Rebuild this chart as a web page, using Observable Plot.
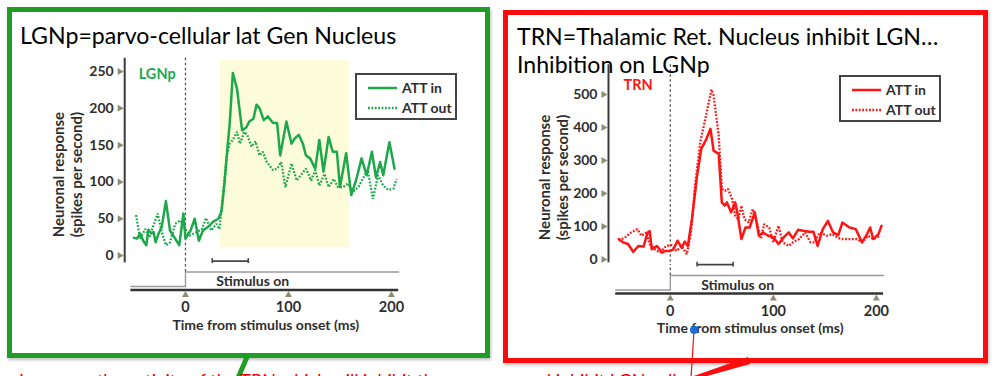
<!DOCTYPE html>
<html>
<head>
<meta charset="utf-8">
<script src="https://cdn.jsdelivr.net/npm/d3@7"></script>
<script src="https://cdn.jsdelivr.net/npm/@observablehq/plot@0.6"></script>
<style>
  html, body { margin: 0; padding: 0; background: #fff; }
  #stage { position: relative; width: 994px; height: 376px; overflow: hidden; background: #fff; }
  .box { position: absolute; box-sizing: border-box; box-shadow: 1px 2px 3px rgba(0,0,0,0.25); }
  .slot { position: absolute; }
  .slot svg { display: block; }
  #overlay { position: absolute; left: 0; top: 0; }
</style>
</head>
<body>
<div id="stage">
  <div class="box" style="left:7px;top:7px;width:483px;height:351px;border:5px solid #1f9d24;"></div>
  <div class="box" style="left:503px;top:10px;width:485px;height:353px;border:5px solid #fb0d0d;"></div>
  <div class="slot" id="lgnMain" style="left:14px;top:48px;"></div>
  <div class="slot" id="lgnStim" style="left:14px;top:250px;"></div>
  <div class="slot" id="trnMain" style="left:500px;top:48px;"></div>
  <div class="slot" id="trnStim" style="left:500px;top:254px;"></div>
  <svg id="overlay" width="994" height="376"></svg>
</div>
<script>
// ---------------- data ----------------
const lgnAttIn = [[-50,24],[-47,23],[-44,30],[-41,20],[-38,14],[-36,35],[-33,30],[-31,32],[-29,18],[-26,30],[-23,39],[-19,74],[-15,34],[-10,23],[-6,14],[-2,57],[0,23],[5,34],[9,50],[13,20],[17,34],[22,39],[27,46],[32,50],[35,60],[38,100],[41,150],[43,180],[46,248],[50,227],[55,170],[59,174],[62,182],[66,186],[69,205],[72,200],[76,184],[80,189],[85,180],[89,180],[92,136],[98,182],[103,152],[106,159],[110,164],[114,152],[117,136],[121,132],[126,118],[130,157],[134,114],[139,161],[143,141],[147,141],[150,93],[156,139],[161,82],[166,104],[171,132],[176,109],[181,141],[185,106],[189,127],[192,109],[198,154],[203,118]];
const lgnAttOut = [[-48,55],[-44,23],[-39,36],[-35,25],[-31,41],[-27,57],[-23,32],[-19,14],[-15,18],[-10,43],[-5,48],[0,36],[4,27],[11,32],[16,36],[20,51],[25,34],[30,43],[33,36],[37,90],[40,136],[43,152],[46,157],[50,168],[53,152],[57,168],[60,164],[64,148],[68,155],[72,136],[75,141],[79,127],[85,116],[89,118],[93,127],[97,93],[103,125],[108,102],[113,111],[117,118],[122,102],[126,116],[130,95],[135,111],[139,93],[144,104],[148,93],[153,93],[158,98],[162,86],[168,93],[172,104],[177,116],[182,77],[187,109],[192,95],[197,89],[202,91],[205,104]];
const trnAttIn = [[-50,62],[-46,52],[-41,47],[-36,23],[-31,41],[-26,39],[-22,82],[-20,86],[-18,31],[-13,41],[-8,21],[-5,26],[0,26],[3,31],[7,57],[11,36],[14,54],[17,41],[21,122],[26,254],[30,335],[35,365],[39,396],[42,330],[47,320],[50,173],[53,163],[55,173],[59,143],[63,173],[65,143],[69,62],[73,97],[77,97],[82,143],[86,72],[90,82],[95,72],[100,67],[105,47],[110,67],[115,82],[119,64],[124,90],[129,87],[135,84],[139,84],[143,41],[148,92],[153,117],[158,82],[163,74],[167,112],[174,97],[180,92],[186,52],[191,77],[194,97],[197,62],[202,77],[205,102]];
const trnAttOut = [[-50,57],[-44,67],[-38,82],[-32,92],[-28,72],[-23,82],[-20,47],[-15,31],[-10,21],[-4,41],[1,44],[6,26],[11,41],[16,16],[20,82],[24,224],[29,355],[34,426],[38,487],[40,515],[42,497],[47,375],[50,214],[53,208],[56,214],[60,183],[63,133],[66,122],[69,163],[72,122],[76,112],[80,153],[84,112],[88,62],[91,107],[96,97],[100,52],[105,102],[109,52],[115,41],[119,52],[125,62],[131,82],[136,52],[140,52],[145,82],[152,72],[157,77],[162,67],[166,62],[174,62],[181,62],[186,52],[192,72],[197,62],[204,72]];

const lgnYTicks = [0, 50, 100, 150, 200, 250];
const trnYTicks = [0, 100, 200, 300, 400, 500];
const xTicks = [0, 100, 200];
const seriesNames = ["ATT in", "ATT out"];
const lgnAttnWindow = [{start: 34, end: 159, low: 11, high: 265}];
const analysisBar = [{start: 26, end: 61}];
const stimulusTrace = [{t: -53, on: 0}, {t: 0, on: 0}, {t: 0, on: 1}, {t: 207, on: 1}];
const stimulusLabel = [{t: 30, on: 0.33, text: "Stimulus on"}];
const xLabel = "Time from stimulus onset (ms)";
const yLabel = "Neuronal response\n(spikes per second)";
const lgnTitle = "LGNp=parvo-cellular lat Gen Nucleus";
const trnTitle = ["TRN=Thalamic Ret. Nucleus inhibit LGN…", "Inhibition on LGNp"];

// ---------------- styles ----------------
const GREEN = "#1ea84c", RED = "#ff1414", INK = "#2e2e2e", TRI = "#8d8d73";
const FONT = "Lato, 'Open Sans', sans-serif";
const DOTS = "1.8,1.6";
const baseStyle = {background: "transparent", overflow: "visible", fontFamily: FONT, fontWeight: "bold", fontSize: "13px", color: INK};
const toPts = s => s.map(([t, v]) => ({t, v}));

function mainPlot(c) {
  return Plot.plot({
    width: c.width, height: c.height,
    marginLeft: c.ml, marginRight: c.mr, marginTop: c.mt, marginBottom: c.mb,
    x: {domain: c.xDomain, axis: null},
    y: {domain: c.yDomain, axis: null},
    style: baseStyle,
    marks: [
      c.shade ? Plot.rect(c.shade, {x1: "start", x2: "end", y1: "low", y2: "high", fill: "#fcfcda"}) : null,
      Plot.ruleX([c.xDomain[0]], {stroke: "#3a3a3a", strokeWidth: 2}),
      Plot.ruleX([0], {stroke: "#555", strokeWidth: 1.3, strokeDasharray: "2.5,2.5"}),
      Plot.line(toPts(c.outData), {x: "t", y: "v", stroke: c.color, strokeWidth: 2.3, strokeDasharray: DOTS, strokeLinecap: "butt", strokeLinejoin: "miter"}),
      Plot.line(toPts(c.inData), {x: "t", y: "v", stroke: c.color, strokeWidth: 2.5}),
      Plot.axisY({ticks: c.yTicks, tickSize: 0, tickPadding: 11, fill: INK, fontSize: 14, fontWeight: "bold", label: null}),
      Plot.dot(c.yTicks, {y: d => d, frameAnchor: "left", dx: -5, symbol: "triangle", rotate: 90, r: 2.6, fill: TRI}),
      Plot.text([c.tag], {frameAnchor: "top-left", dx: c.tagDx, dy: c.tagDy, textAnchor: "start", lineAnchor: "middle", fill: c.color, fontSize: 14.5, fontWeight: "bold"}),
      Plot.text([yLabel], {frameAnchor: "left", dx: c.ylDx, dy: c.ylDy, rotate: -90, textAnchor: "middle", lineAnchor: "middle", lineHeight: 1.2, fill: INK, fontSize: 15, fontWeight: "bold"})
    ]
  });
}

function stimPlot(c) {
  return Plot.plot({
    width: c.width, height: c.height,
    marginLeft: c.ml, marginRight: c.mr, marginTop: c.mt, marginBottom: c.mb,
    x: {domain: c.xDomain, axis: null},
    y: {domain: [-0.25, 1.75], axis: null},
    style: baseStyle,
    marks: [
      Plot.ruleY([-0.25], {x1: stimulusTrace[0].t, x2: stimulusTrace[stimulusTrace.length - 1].t, stroke: "#333", strokeWidth: 2.5}),
      Plot.line(stimulusTrace, {x: "t", y: "on", stroke: "#9a9a9a", strokeWidth: 1.4}),
      Plot.ruleX([0], {y1: 1, y2: 1.75, stroke: "#555", strokeWidth: 1.3, strokeDasharray: "2.5,2.5"}),
      Plot.link(analysisBar, {x1: "start", x2: "end", y1: 1.75, y2: 1.75, stroke: "#444", strokeWidth: 1.6}),
      Plot.ruleX(analysisBar.flatMap(d => [d.start, d.end]), {y1: 1.58, y2: 1.92, stroke: "#444", strokeWidth: 1.6}),
      Plot.text(stimulusLabel, {x: "t", y: "on", text: "text", textAnchor: "start", fill: INK, fontSize: 14, fontWeight: "bold"}),
      Plot.dot(xTicks, {x: d => d, frameAnchor: "bottom", dy: 5, symbol: "triangle", r: 2.6, fill: TRI}),
      Plot.axisX({ticks: xTicks, tickSize: 0, tickPadding: 12, fill: INK, fontSize: 14.5, fontWeight: "bold", label: null}),
      Plot.text([xLabel], {frameAnchor: "bottom", dy: 35, textAnchor: "middle", lineAnchor: "middle", fill: INK, fontSize: 14, fontWeight: "bold"})
    ]
  });
}

document.getElementById("lgnMain").append(mainPlot({
  width: 470, height: 218, ml: 110.2, mr: 77.6, mt: 9.8, mb: 3.6,
  xDomain: [-59, 215], yDomain: [-10, 268], yTicks: lgnYTicks,
  inData: lgnAttIn, outData: lgnAttOut, color: GREEN, shade: lgnAttnWindow,
  tag: "LGNp", tagDx: 14, tagDy: 15.7, ylDx: -57, ylDy: 14
}));
document.getElementById("lgnStim").append(stimPlot({
  width: 470, height: 95, ml: 110.2, mr: 77.6, mt: 10.6, mb: 55.4, xDomain: [-59, 215]
}));
document.getElementById("trnMain").append(mainPlot({
  width: 484, height: 218, ml: 108, mr: 92.7, mt: 16.3, mb: 3.7,
  xDomain: [-60, 215], yDomain: [-10, 590], yTicks: trnYTicks,
  inData: trnAttIn, outData: trnAttOut, color: RED, shade: null,
  tag: "TRN", tagDx: 15, tagDy: 20.5, ylDx: -55.5, ylDy: 13.7
}));
document.getElementById("trnStim").append(stimPlot({
  width: 484, height: 95, ml: 108, mr: 92.7, mt: 10.1, mb: 55.9, xDomain: [-60, 215]
}));

// ---------------- titles, legends, slide callouts ----------------
const ov = d3.select("#overlay");
const TFONT = "Lato, 'Open Sans', sans-serif";
function fitSize(text, width) {
  const ctx = document.createElement("canvas").getContext("2d");
  ctx.font = `400 100px ${TFONT}`;
  return 100 * width / ctx.measureText(text).width;
}
const tSize = (fitSize(lgnTitle, 377) + fitSize(trnTitle[0], 421)) / 2;
ov.append("text").attr("x", 20).attr("y", 43.5).attr("font-family", TFONT).attr("font-size", tSize).attr("fill", "#000").text(lgnTitle);
trnTitle.forEach((t, i) => ov.append("text").attr("x", 517).attr("y", 45 + 28 * i).attr("font-family", TFONT).attr("font-size", tSize).attr("fill", "#000").text(t));

function legend(x, y, color) {
  const g = ov.append("g").attr("transform", `translate(${x},${y})`);
  g.append("rect").attr("width", 100).attr("height", 45).attr("fill", "#fff").attr("stroke", "#444").attr("stroke-width", 2);
  seriesNames.forEach((name, i) => {
    const cy = 14 + i * 20;
    g.append("line").attr("x1", 12).attr("x2", 41).attr("y1", cy).attr("y2", cy)
      .attr("stroke", color).attr("stroke-width", i ? 2.3 : 2.5).attr("stroke-dasharray", i ? DOTS : null);
    g.append("text").attr("x", 46).attr("y", cy).attr("dy", "0.35em").attr("font-family", FONT)
      .attr("font-weight", "bold").attr("font-size", 14).attr("fill", INK).text(name);
  });
}
legend(356, 74, GREEN);
legend(840, 76, RED);

// callout pieces of the slide below the boxes
ov.append("line").attr("x1", 247).attr("y1", 357).attr("x2", 238).attr("y2", 378).attr("stroke", "#1f9d24").attr("stroke-width", 5);
ov.append("path").attr("d", "M688,378 L748,357 L750,364 L700,378 Z").attr("fill", "#fb0d0d");
ov.append("line").attr("x1", 694).attr("y1", 331).attr("x2", 691).attr("y2", 378).attr("stroke", "#fb0d0d").attr("stroke-width", 1.2);
ov.append("circle").attr("cx", 694).attr("cy", 330).attr("r", 4).attr("fill", "#1a6fd6");
ov.append("text").attr("x", 19).attr("y", 387).attr("font-family", TFONT).attr("font-size", 18).attr("fill", "#e00").text("Increases the activity of the TRN which will inhibit the");
ov.append("text").attr("x", 522).attr("y", 387).attr("font-family", TFONT).attr("font-size", 18).attr("fill", "#e00").text("and inhibit LGN cells");
</script>
</body>
</html>
